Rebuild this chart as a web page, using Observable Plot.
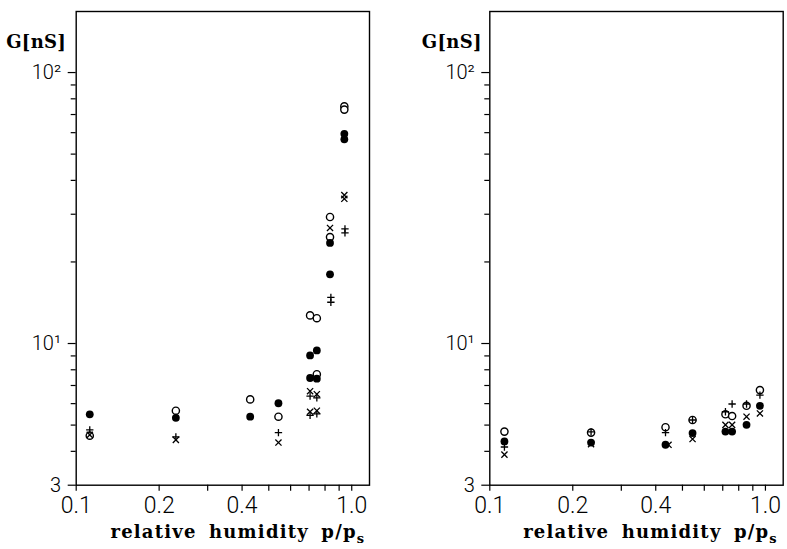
<!DOCTYPE html>
<html><head><meta charset="utf-8">
<script src="https://cdn.jsdelivr.net/npm/d3@7"></script>
<script src="https://cdn.jsdelivr.net/npm/@observablehq/plot@0.6"></script>
<style>
body{margin:0;background:#fff;}
#wrap{position:relative;width:787px;height:549px;background:#fff;overflow:hidden;}
#wrap svg{position:absolute;top:0;}
</style></head><body><div id="wrap"></div>
<script>
// ---- tick values and labels ----
const xTicks = [0.1, 0.2, 0.3, 0.4, 0.5, 0.6, 0.7, 0.8, 0.9, 1.0];
const xTickLabels = ["0.1", "0.2", "", "0.4", "", "", "", "", "", "1.0"];
const yMinorTicks = [4, 5, 6, 7, 8, 9, 20, 30, 40, 50, 60, 70, 80, 90];
const yMajorTicks = [3, 10, 100];
const yMajorLabels = ["3", "10\u00B9", "10\u00B2"];
const yLabel = "G[nS]";
const xLabel = "relative humidity p/p";
const xLabelSub = "s";

// ---- left panel data (relative humidity, G in nS) ----
const leftFilledX = [0.112, 0.23, 0.428, 0.542, 0.706, 0.747, 0.706, 0.747, 0.834, 0.834, 0.94, 0.94];
const leftFilledG = [5.48, 5.32, 5.37, 6.02, 9.04, 9.43, 7.46, 7.42, 23.5, 18.0, 59.4, 56.7];
const leftOpenX = [0.112, 0.23, 0.428, 0.542, 0.706, 0.747, 0.747, 0.834, 0.834, 0.94, 0.94];
const leftOpenG = [4.57, 5.65, 6.22, 5.37, 12.7, 12.4, 7.7, 29.3, 24.7, 75, 73];
const leftPlusX = [0.112, 0.23, 0.542, 0.706, 0.747, 0.706, 0.747, 0.84, 0.84, 0.945, 0.945];
const leftPlusG = [4.8, 4.52, 4.69, 6.4, 6.3, 5.43, 5.5, 14.8, 14.2, 26.5, 25.6];
const leftTimesX = [0.112, 0.23, 0.542, 0.706, 0.747, 0.706, 0.747, 0.834, 0.94, 0.94];
const leftTimesG = [4.6, 4.41, 4.31, 6.67, 6.5, 5.6, 5.65, 26.7, 35.3, 34.2];

// ---- right panel data ----
const rightFilledX = [0.113, 0.233, 0.434, 0.544, 0.716, 0.757, 0.854, 0.955];
const rightFilledG = [4.35, 4.31, 4.23, 4.67, 4.73, 4.73, 5.01, 5.89];
const rightOpenX = [0.113, 0.233, 0.434, 0.544, 0.716, 0.757, 0.854, 0.955];
const rightOpenG = [4.73, 4.69, 4.91, 5.22, 5.48, 5.40, 5.89, 6.73];
const rightPlusX = [0.113, 0.233, 0.434, 0.544, 0.716, 0.757, 0.854, 0.955];
const rightPlusG = [4.15, 4.72, 4.69, 5.22, 5.6, 5.98, 5.98, 6.45];
const rightTimesX = [0.113, 0.233, 0.445, 0.544, 0.716, 0.757, 0.854, 0.955];
const rightTimesG = [3.89, 4.25, 4.23, 4.44, 5.01, 5.01, 5.37, 5.52];

const pts = (xs, gs) => xs.map((x, i) => ({x, g: gs[i]}));
const sans = "Roboto, 'Liberation Sans', sans-serif";
const serif = "'DejaVu Serif', 'Liberation Serif', serif";

function panel(cfg) {
  const svg = Plot.plot({
    width: cfg.width,
    height: 549,
    marginLeft: cfg.marginLeft,
    marginRight: cfg.marginRight,
    marginTop: 11,
    marginBottom: 64.3,
    x: {type: "log", domain: [0.1, 1.16]},
    y: {type: "log", domain: [3, 168]},
    style: {background: "transparent", color: "black", fontFamily: sans, overflow: "visible"},
    marks: [
      Plot.frame({stroke: "black", strokeWidth: 1.4}),
      Plot.axisX({ticks: xTicks, tickFormat: d => xTickLabels[xTicks.indexOf(d)] ?? "",
        tickSize: 6, tickPadding: 5, fontSize: 23, fontWeight: 300, label: null, strokeWidth: 1.2}),
      Plot.axisY({ticks: yMinorTicks, tickFormat: () => "", tickSize: 5, label: null, strokeWidth: 1.2}),
      Plot.axisY({ticks: yMajorTicks, tickFormat: d => yMajorLabels[yMajorTicks.indexOf(d)],
        tickSize: 8, tickPadding: 7, fontSize: 20, fontWeight: 300, label: null, strokeWidth: 1.2}),
      Plot.dot(pts(cfg.openX, cfg.openG), {x: "x", y: "g", r: 3.6, stroke: "black", strokeWidth: 1.4, fill: "white"}),
      Plot.dot(pts(cfg.filledX, cfg.filledG), {x: "x", y: "g", r: 3.9, fill: "black", stroke: "none"}),
      Plot.dot(pts(cfg.plusX, cfg.plusG), {x: "x", y: "g", symbol: "plus", r: 2.5, stroke: "black", strokeWidth: 1.3}),
      Plot.dot(pts(cfg.timesX, cfg.timesG), {x: "x", y: "g", symbol: "times", r: 2.9, stroke: "black", strokeWidth: 1.3}),
      Plot.text([yLabel], {frameAnchor: "top-left", dx: cfg.gdx, dy: 24, textAnchor: "end",
        fontSize: 18, fontFamily: serif, fontWeight: "bold"}),
      Plot.text([xLabel], {frameAnchor: "bottom", dx: cfg.xdx, dy: 53,
        fontSize: 18, fontFamily: serif, fontWeight: "bold"})
    ]
  });
  d3.select(svg).selectAll("text").each(function() {
    if (this.textContent === xLabel) {
      d3.select(this).style("word-spacing", "5px").style("letter-spacing", "1.2px");
      d3.select(this).append("tspan").attr("dy", "0.35em").attr("font-size", 13).text(xLabelSub);
    }
    if (this.textContent === yLabel) {
      d3.select(this).style("letter-spacing", "0.3px");
    }
  });
  svg.style.left = cfg.left + "px";
  return svg;
}

const wrap = document.getElementById("wrap");
wrap.appendChild(panel({
  left: 0, width: 393, marginLeft: 75.7, marginRight: 24, gdx: -10, xdx: 15,
  filledX: leftFilledX, filledG: leftFilledG, openX: leftOpenX, openG: leftOpenG,
  plusX: leftPlusX, plusG: leftPlusG, timesX: leftTimesX, timesG: leftTimesG
}));
wrap.appendChild(panel({
  left: 393, width: 394, marginLeft: 96.3, marginRight: 4.3, gdx: -8, xdx: 14,
  filledX: rightFilledX, filledG: rightFilledG, openX: rightOpenX, openG: rightOpenG,
  plusX: rightPlusX, plusG: rightPlusG, timesX: rightTimesX, timesG: rightTimesG
}));
</script></body></html>
